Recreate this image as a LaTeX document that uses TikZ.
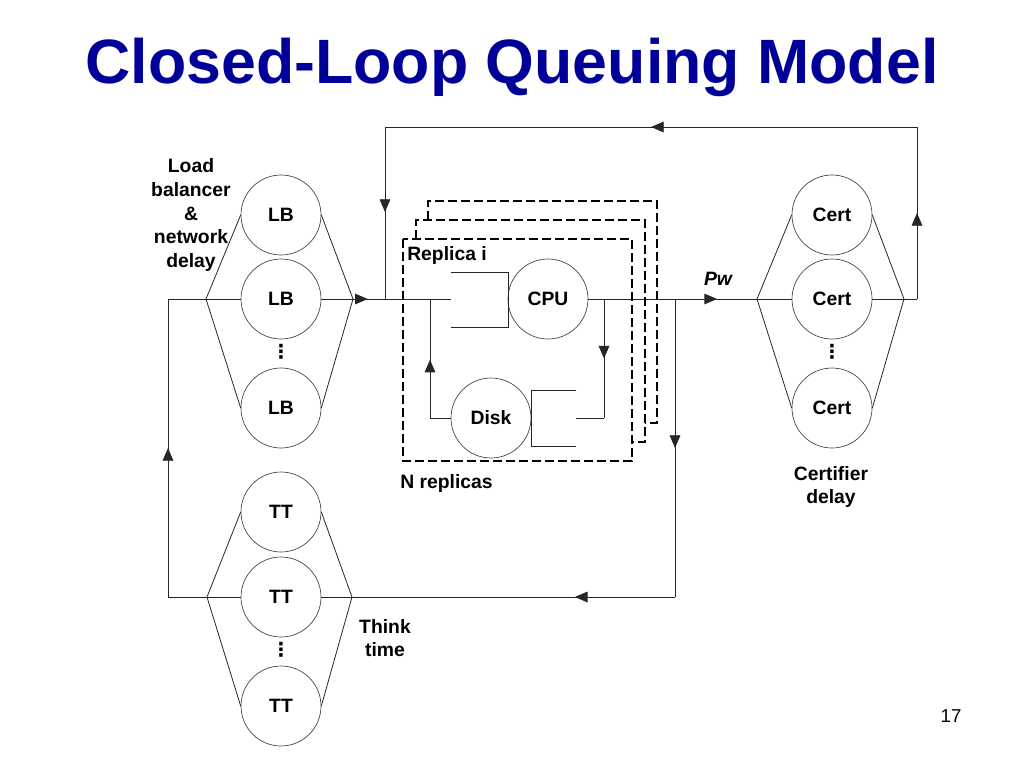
\documentclass[tikz,border=0pt]{standalone}
\usepackage{fontspec}
\setmainfont{Liberation Sans}
\newfontfamily\symfont{DejaVu Sans}
\usetikzlibrary{arrows.meta,decorations.markings}
\definecolor{titleblue}{RGB}{0,0,153}
\tikzset{
  wire/.style={draw=black!85, line width=0.6pt},
  arrowat/.style={postaction={decorate}, decoration={markings, mark=at position #1 with {\arrow{Triangle[length=9.5pt,width=8pt]}}}},
  srv/.style={circle, draw=black!75, line width=0.5pt, minimum size=60pt, inner sep=0pt, font=\bfseries\fontsize{14.5}{16}\selectfont},
  lbl/.style={font=\bfseries\fontsize{14.5}{17.8}\selectfont, align=center, inner sep=0pt},
  dots/.style={font=\symfont\bfseries\fontsize{14.5}{16}\selectfont, inner sep=0pt},
  replica/.style={line width=2.2pt, dash pattern=on 6.75pt off 3pt},
}
\begin{document}
\begin{tikzpicture}[x=0.75pt,y=-0.75pt]
  \useasboundingbox (0,0) rectangle (1024,768);
  \node[font=\bfseries\fontsize{47}{50}\selectfont, text=titleblue] (title) at (512,67) {Closed-Loop Queuing Model};

  % servers
  \node[srv] (lb1) at (281,215) {LB};
  \node[srv] (lb2) at (281,299) {LB};
  \node[srv] (lb3) at (281,408) {LB};
  \node[srv] (cert1) at (832,215) {Cert};
  \node[srv] (cert2) at (832,299) {Cert};
  \node[srv] (cert3) at (832,408) {Cert};
  \node[srv] (tt1) at (281,512) {TT};
  \node[srv] (tt2) at (281,597) {TT};
  \node[srv] (tt3) at (281,706) {TT};
  \node[srv] (cpu) at (548,299) {CPU};
  \node[srv] (disk) at (491,418) {Disk};
  \node[dots] (lbdots) at (281,352) {⋮};
  \node[dots] (certdots) at (832,352) {⋮};
  \node[dots] (ttdots) at (281,650) {⋮};

  % junctions
  \coordinate (lbin) at (206,299);
  \coordinate (lbout) at (353,299);
  \coordinate (certin) at (757,299);
  \coordinate (certout) at (904,299);
  \coordinate (ttin) at (207,597);
  \coordinate (ttout) at (352,597);
  \coordinate (join) at (385,299);
  \coordinate (cpuq) at (451,299);
  \coordinate (diskq) at (576,418);
  \coordinate (split) at (604,299);
  \coordinate (exit) at (675,299);

  % fans
  \foreach \g/\i/\o in {lb/lbin/lbout, cert/certin/certout, tt/ttin/ttout} {
    \draw[wire] (\g1.west) -- (\i) -- (\g3.west);
    \draw[wire] (\i) -- (\g2.west);
    \draw[wire] (\g1.east) -- (\o) -- (\g3.east);
    \draw[wire] (\g2.east) -- (\o);
  }

  % queues
  \draw[wire] (451,272) -- (508,272) -- (508,327) -- (451,327);
  \draw[wire] (576,390) -- (531,390) -- (531,446) -- (576,446);

  % flow
  \draw[wire, arrowat=0.46] (lbout) -- (join);
  \draw[wire] (join) -- (cpuq);
  \draw[wire, arrowat=0.763] (cpu.east) -- (certin);
  \draw[wire, arrowat=0.5] (split) -- (604,418);
  \draw[wire] (604,418) -- (diskq);
  \draw[wire] (disk.west) -- (430,418);
  \draw[wire, arrowat=0.49] (430,418) -- (430,299);
  \draw[wire] (certout) -- (917,299);
  \draw[wire, arrowat=0.5] (917,299) -- (917,127);
  \draw[wire, arrowat=0.5] (917,127) -- (385,127);
  \draw[wire, arrowat=0.494] (385,127) -- (join);
  \draw[wire, arrowat=0.5] (exit) -- (675,597);
  \draw[wire, arrowat=0.31] (675,597) -- (ttout);
  \draw[wire] (ttin) -- (168,597);
  \draw[wire, arrowat=0.5] (168,597) -- (168,299);
  \draw[wire] (168,299) -- (lbin);

  % replicas
  \draw[replica] (428,220) -- (428,201) -- (657,201) -- (657,423) -- (645,423);
  \draw[replica] (416,239) -- (416,220) -- (645,220) -- (645,442) -- (632,442);
  \draw[replica] (403,239) rectangle (632,461);

  % labels
  \node[lbl] (lbtext) at (191,215) {Load\\balancer\\\&\\network\\delay};
  \node[lbl, anchor=west] (replicai) at (407,255) {Replica i};
  \node[lbl, anchor=west] (nrep) at (400,483) {N replicas};
  \node[lbl, font=\bfseries\itshape\fontsize{14.5}{16}\selectfont] (pw) at (718,279) {Pw};
  \node[lbl] (certtext) at (831,487) {Certifier\\delay};
  \node[lbl] (thinktext) at (385,638) {Think\\time};
  \node[font=\fontsize{14}{16}\selectfont] (page) at (951,716) {17};
\end{tikzpicture}
\end{document}
